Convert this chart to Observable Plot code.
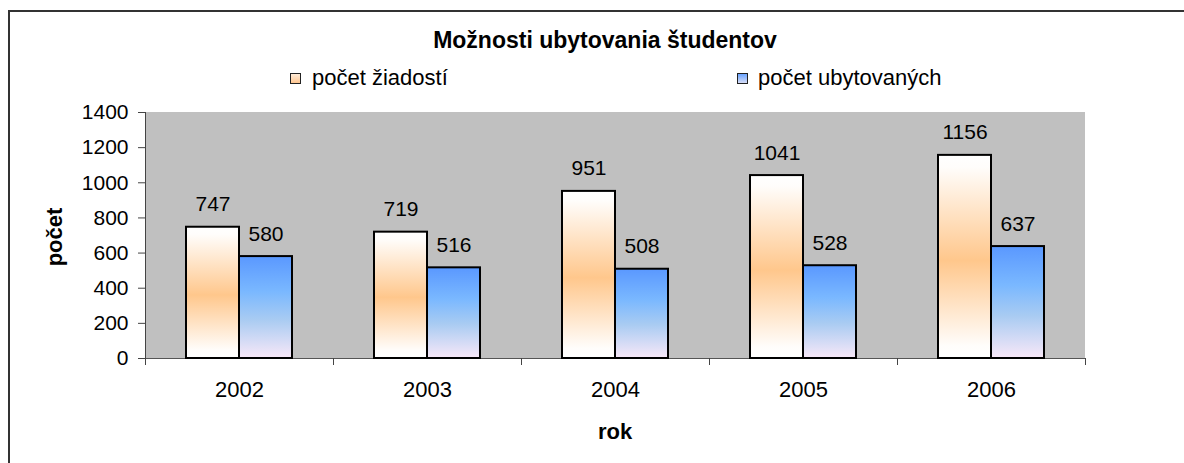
<!DOCTYPE html>
<html>
<head>
<meta charset="utf-8">
<script src="https://cdn.jsdelivr.net/npm/d3@7"></script>
<script src="https://cdn.jsdelivr.net/npm/@observablehq/plot@0.6"></script>
<style>
  html, body { margin: 0; padding: 0; overflow: hidden; background: #fff; width: 1184px; height: 463px; }
  body { position: relative; font-family: "Liberation Sans", Arial, Helvetica, sans-serif; color: #000; }
  #chart { position: absolute; left: 0; top: 0; }
  .abs { position: absolute; white-space: nowrap; }
  #title { left: 0; width: 1210px; top: 29px; text-align: center; font-size: 23px; line-height: 23px; font-weight: bold; }
  .sw { position: absolute; width: 9px; height: 9px; border: 1px solid #222; top: 73px; }
  .lt { position: absolute; top: 67px; font-size: 22px; line-height: 22px; white-space: nowrap; }
  #xlab { left: 0; width: 1230px; top: 421px; text-align: center; font-size: 22px; line-height: 22px; font-weight: bold; }
  #ylab { left: 55px; top: 236.5px; transform: translate(-50%, -50%) rotate(-90deg); font-size: 22px; line-height: 22px; font-weight: bold; }
  #frameBorder { position: absolute; left: 8px; top: 10px; width: 1300px; height: 600px; border-left: 2px solid #333; border-top: 2px solid #333; pointer-events: none; }
</style>
</head>
<body>
<div id="chart"></div>
<div id="title" class="abs"></div>
<div id="legend"></div>
<div id="xlab" class="abs"></div>
<div id="ylab" class="abs"></div>
<div id="frameBorder"></div>
<script>
// ---- data ----
const titleText = "Možnosti ubytovania študentov";
const years = ["2002", "2003", "2004", "2005", "2006"];
const seriesNames = ["počet žiadostí", "počet ubytovaných"];
const requests = [747, 719, 951, 1041, 1156];
const accommodated = [580, 516, 508, 528, 637];
const yTicks = [0, 200, 400, 600, 800, 1000, 1200, 1400];
const xTitle = "rok";
const yTitle = "počet";

const rows = years.flatMap((year, i) => [
  {year, series: seriesNames[0], value: requests[i]},
  {year, series: seriesNames[1], value: accommodated[i]}
]);

const font = '"Liberation Sans", Arial, Helvetica, sans-serif';

const chart = Plot.plot({
  width: 1184,
  height: 463,
  marginTop: 112,
  marginBottom: 105,
  marginLeft: 144,
  marginRight: 99,
  style: {background: "transparent", fontFamily: font, fontSize: "21px", color: "black", overflow: "visible"},
  fx: {domain: years, padding: 0},
  x: {domain: seriesNames, paddingInner: 0, paddingOuter: 0.76, axis: null},
  y: {domain: [0, yTicks[yTicks.length - 1]]},
  marks: [
    Plot.ruleY([0], {stroke: "#555"}),
    Plot.barY(rows, {filter: d => d.series === seriesNames[0], fx: "year", x: "series", y: "value",
      fill: "url(#gradReq)", stroke: "black", strokeWidth: 2}),
    Plot.barY(rows, {filter: d => d.series === seriesNames[1], fx: "year", x: "series", y: "value",
      fill: "url(#gradAcc)", stroke: "black", strokeWidth: 2}),
    Plot.text(rows, {fx: "year", x: "series", y: "value", text: d => String(d.value),
      lineAnchor: "bottom", dy: -16, fontSize: 21, fill: "black"}),
    Plot.axisY({ticks: yTicks, tickFormat: d => String(d), tickSize: 7, tickPadding: 10,
      fontSize: 21, label: null, stroke: "#444", fill: "black"}),
    Plot.axisFx({anchor: "bottom", tickSize: 0, tickPadding: 23, fontSize: 22, label: null, fill: "black"})
  ]
});
document.getElementById("chart").appendChild(chart);

const svg = d3.select(chart);
const fx = chart.scale("fx"), ys = chart.scale("y");
const yTop = ys.apply(yTicks[yTicks.length - 1]), yBase = ys.apply(0);
const xLeft = fx.apply(years[0]);
const xRight = fx.apply(years[years.length - 1]) + fx.bandwidth;

// gradients
const defs = svg.insert("defs", ":first-child");
function grad(id, stops) {
  const g = defs.append("linearGradient").attr("id", id)
    .attr("x1", 0).attr("y1", 0).attr("x2", 0).attr("y2", 1);
  stops.forEach(([o, c]) => g.append("stop").attr("offset", o).attr("stop-color", c));
}
grad("gradReq", [[0, "#ffffff"], [0.06, "#fffdfb"], [0.52, "#ffc78c"], [0.94, "#fffdfb"], [1, "#ffffff"]]);
grad("gradAcc", [[0, "#5a98ff"], [0.35, "#7ab8ff"], [0.62, "#a8cbf2"], [1, "#f8e8f8"]]);

// plot-area background as a single rect from the scales (placed right after defs)
svg.insert("rect", "defs + *")
  .attr("x", xLeft).attr("y", yTop).attr("width", xRight - xLeft).attr("height", yBase - yTop)
  .attr("fill", "#c0c0c0");

// y axis line and category-boundary ticks
const lines = svg.append("g").attr("stroke", "#444").attr("stroke-width", 1).attr("fill", "none");
lines.append("line").attr("x1", xLeft + 0.5).attr("x2", xLeft + 0.5).attr("y1", yTop).attr("y2", yBase + 0.5);
const bounds = years.map(y => fx.apply(y)).concat([xRight]);
bounds.forEach(b => {
  const bx = Math.round(b) + 0.5;
  lines.append("line").attr("x1", bx).attr("x2", bx).attr("y1", yBase).attr("y2", yBase + 7);
});

// title, legend, axis titles
document.getElementById("title").textContent = titleText;
document.getElementById("xlab").textContent = xTitle;
document.getElementById("ylab").textContent = yTitle;
const legend = document.getElementById("legend");
const legendItems = [
  {label: seriesNames[0], sw: 290, tx: 312, bg: "linear-gradient(#ffecd9, #ffc690)"},
  {label: seriesNames[1], sw: 737, tx: 758, bg: "linear-gradient(#6aa4ff, #d6dcf6)"}
];
legendItems.forEach(it => {
  const s = document.createElement("div");
  s.className = "sw"; s.style.left = it.sw + "px"; s.style.background = it.bg;
  legend.appendChild(s);
  const t = document.createElement("div");
  t.className = "lt"; t.style.left = it.tx + "px"; t.textContent = it.label;
  legend.appendChild(t);
});
</script>
</body>
</html>
